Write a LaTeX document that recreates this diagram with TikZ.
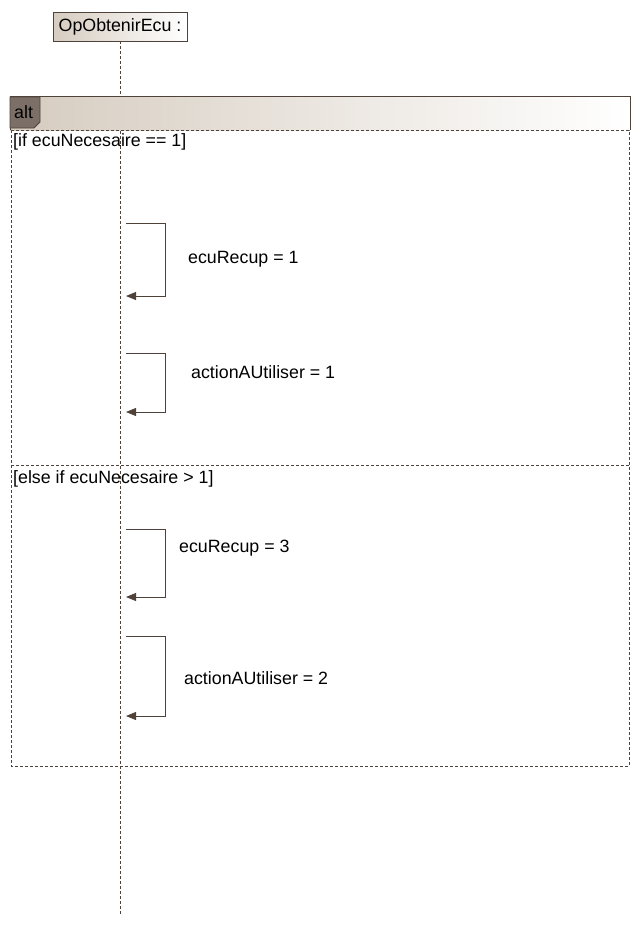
\documentclass[tikz,border=0pt]{standalone}
\usepackage{fontspec}
\setmainfont{Liberation Sans}
\usetikzlibrary{arrows.meta}
\definecolor{umlline}{HTML}{4F423A}
\definecolor{umltan}{HTML}{D6CCC0}
\definecolor{umltag}{HTML}{7B6F67}
\tikzset{
  txt/.style={inner sep=0pt, anchor=west, font=\fontsize{17.8}{21}\selectfont},
  frameline/.style={draw=umlline, line width=1pt, dash pattern=on 3pt off 2pt},
  msg/.style={draw=umlline, line width=0.85pt, -{Triangle[length=10pt,width=8pt]}},
}
\begin{document}
\begin{tikzpicture}[x=1pt,y=-1pt]
\useasboundingbox (0,0) rectangle (641,927);

% lifeline
\node[draw=umlline, line width=0.8pt, left color=umltan, right color=white,
  minimum width=134pt, minimum height=29pt, inner sep=0pt,
  font=\fontsize{17.8}{21}\selectfont] (head) at (120,26.5) {OpObtenirEcu :};
\coordinate (lifeend) at (120,916);
\draw[umlline, line width=0.8pt, dash pattern=on 3pt off 2pt] (head.south) -- (lifeend);

% alt frame
\shade[left color=umltan, right color=white] (10,96) rectangle (630,130);
\draw[umlline, line width=1pt] (10,130) -- (10,96) -- (630,96) -- (630,130);
\filldraw[fill=umltag, draw=umlline, line width=0.8pt]
  (10,97) -- (40,97) -- (40,122) -- (34,128) -- (10,128) -- cycle;
\node[txt] (tag) at (14,112) {alt};
\draw[frameline] (11,130) rectangle (629,766);
\draw[frameline] (11,465) -- (629,465);

% guards
\node[txt] (g1) at (13,142) {[if ecuNecesaire == 1]};
\node[txt] (g2) at (13,479) {[else if ecuNecesaire > 1]};

% self messages
\coordinate (m1a) at (126,223); \coordinate (m1b) at (126,296);
\coordinate (m2a) at (126,353); \coordinate (m2b) at (126,412);
\coordinate (m3a) at (126,529); \coordinate (m3b) at (126,597);
\coordinate (m4a) at (126,636); \coordinate (m4b) at (126,716);
\draw[msg] (m1a) -- ++(39,0) |- (m1b);
\draw[msg] (m2a) -- ++(39,0) |- (m2b);
\draw[msg] (m3a) -- ++(39,0) |- (m3b);
\draw[msg] (m4a) -- ++(39,0) |- (m4b);

\node[txt] (l1) at (188,259) {ecuRecup = 1};
\node[txt] (l2) at (191,372) {actionAUtiliser = 1};
\node[txt] (l3) at (179,548) {ecuRecup = 3};
\node[txt] (l4) at (184,678) {actionAUtiliser = 2};
\end{tikzpicture}
\end{document}
